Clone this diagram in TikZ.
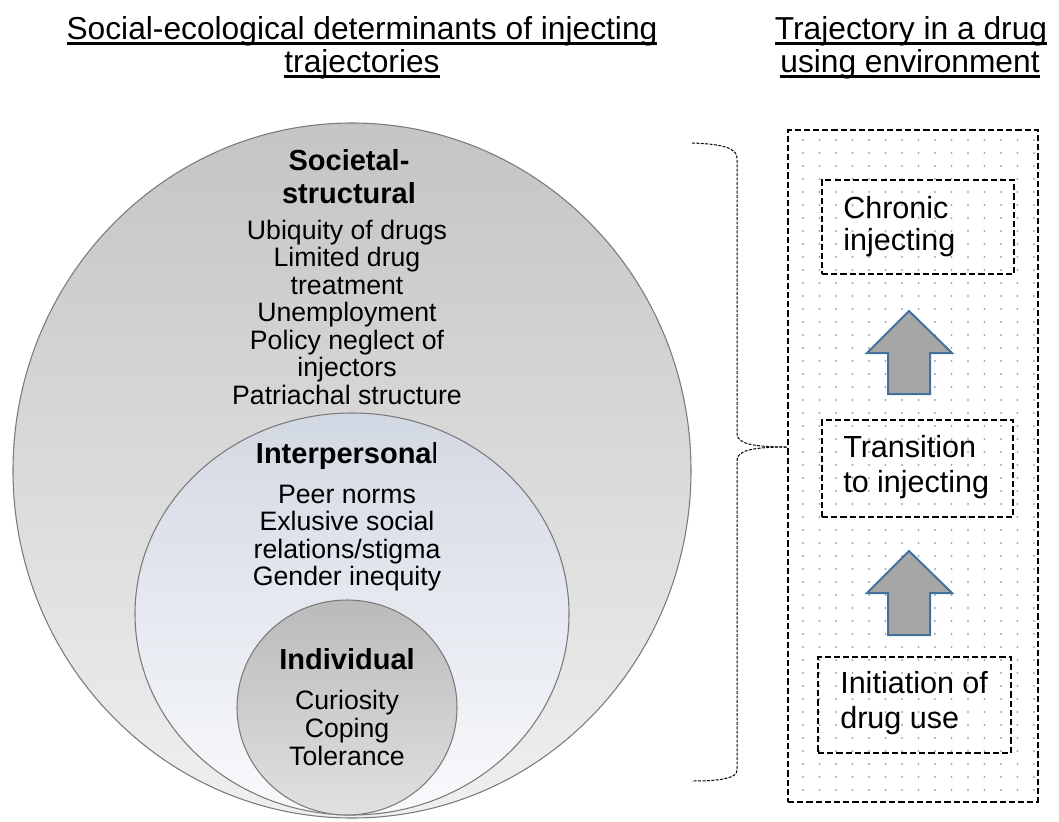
\documentclass[tikz,border=0pt]{standalone}
\usepackage{fontspec}
\setmainfont{Liberation Sans}
\usetikzlibrary{shapes.geometric}
\definecolor{arrowblue}{HTML}{41719C}
\definecolor{arrowgray}{HTML}{A6A6A6}
\definecolor{dotcol}{HTML}{9EA8C6}
\definecolor{outline}{HTML}{7A7A7A}
\newcommand{\myul}[1]{\setbox0\hbox{#1}\rlap{\vrule height -2.6pt depth 4.4pt width \wd0}\box0}
\begin{document}
\begin{tikzpicture}[x=0.75pt,y=-0.75pt,
  ring/.style={ellipse, draw=outline, line width=0.8pt, inner sep=0pt},
  titletext/.style={font=\fontsize{23.8}{25}\selectfont, inner sep=0pt, anchor=base},
  headtext/.style={font=\fontsize{21.75}{24}\selectfont\bfseries, inner sep=0pt, anchor=base},
  bodytext/.style={font=\fontsize{20}{21}\selectfont, inner sep=0pt, anchor=base},
  stagetext/.style={font=\fontsize{22.9}{24}\selectfont, inner sep=0pt, anchor=base west},
  dashbox/.style={draw, line width=1.7pt, dash pattern=on 4.6pt off 2.3pt, inner sep=0pt},
  blockarrow/.style={draw=arrowblue, fill=arrowgray, line width=1.5pt, line join=miter},
  brace/.style={draw, line width=0.75pt, dash pattern=on 2.2pt off 1.1pt}
]
\useasboundingbox (0,0) rectangle (1059,821);

% titles
\node[titletext] (t1) at (362,39) {\myul{Social-ecological determinants of injecting}};
\node[titletext] (t2) at (362,72) {\myul{trajectories}};
\node[titletext] (t3) at (911,39) {\myul{Trajectory in a drug}};
\node[titletext] (t4) at (910,72) {\myul{using environment}};

% nested circles
\node[ring, minimum width=508.5pt, minimum height=521.25pt,
      top color=black!23, bottom color=black!6] (societal) at (352,470.5) {};
\node[ring, minimum width=325.5pt, minimum height=301.5pt,
      top color={rgb,255:red,210;green,216;blue,227}, bottom color={rgb,255:red,249;green,250;blue,252}] (interpersonal) at (352,614) {};
\node[ring, minimum width=165pt, minimum height=161.25pt,
      top color=black!27, bottom color=black!12] (individual) at (347,707.5) {};

% societal text
\node[headtext] (sh1) at (349,170) {Societal-};
\node[headtext] (sh2) at (349,203) {structural};
\foreach \t [count=\i] in {Ubiquity of drugs,Limited drug,treatment,Unemployment,Policy neglect of,injectors,Patriachal structure}
  \node[bodytext] (sb\i) at (347,{239+27.5*(\i-1)}) {\t};

% interpersonal text
\node[headtext] (ih) at (347,463) {Interpersona\mdseries l};
\foreach \t [count=\i] in {Peer norms,Exlusive social,relations/stigma,Gender inequity}
  \node[bodytext] (ib\i) at (347,{503+27.5*(\i-1)}) {\t};

% individual text
\node[headtext] (dh) at (347,669) {Individual};
\foreach \t [count=\i] in {Curiosity,Coping,Tolerance}
  \node[bodytext] (db\i) at (347,{709+28*(\i-1)}) {\t};

% right panel dotted background
\begin{scope}
  \clip (788,130) rectangle (1038,802);
  \foreach \x in {803,819.5,...,1040}
    \foreach \y in {140,153,...,802}
      \fill[dotcol] (\x,\y) circle[radius=0.8pt];
\end{scope}
\node[dashbox, minimum width=187.5pt, minimum height=504pt] (panel) at (913,466) {};

% stage boxes
\node[dashbox, minimum width=144pt, minimum height=71pt] (chronic) at (918,227) {};
\node[dashbox, minimum width=143.25pt, minimum height=72.75pt] (transition) at (917.5,468.5) {};
\node[dashbox, minimum width=144.75pt, minimum height=72pt] (initiation) at (914.5,705) {};

\node[stagetext] (c1) at (843,218) {Chronic};
\node[stagetext] (c2) at (843,250) {injecting};
\node[stagetext] (r1) at (843,457) {Transition};
\node[stagetext] (r2) at (843,492) {to injecting};
\node[stagetext] (n1) at (840,693) {Initiation of};
\node[stagetext] (n2) at (840,728) {drug use};

% block arrows
\draw[blockarrow] (909,311) -- (952,353) -- (930,353) -- (930,394) -- (888,394) -- (888,353) -- (867,353) -- cycle;
\draw[blockarrow] (909,551) -- (952,593) -- (930,593) -- (930,635) -- (888,635) -- (888,593) -- (867,593) -- cycle;

% brace
\coordinate (btop) at (692,143);
\coordinate (btip) at (panel.west |- 0,447);
\coordinate (bbot) at (692,781);
\draw[brace] (btop) .. controls (722,144) and (737,148) .. (737,158) -- (737,434)
  .. controls (737,444) and (755,447) .. (btip);
\draw[brace] (btip) .. controls (755,447) and (737,450) .. (737,460) -- (737,770)
  .. controls (737,778) and (722,781) .. (bbot);
\end{tikzpicture}
\end{document}
